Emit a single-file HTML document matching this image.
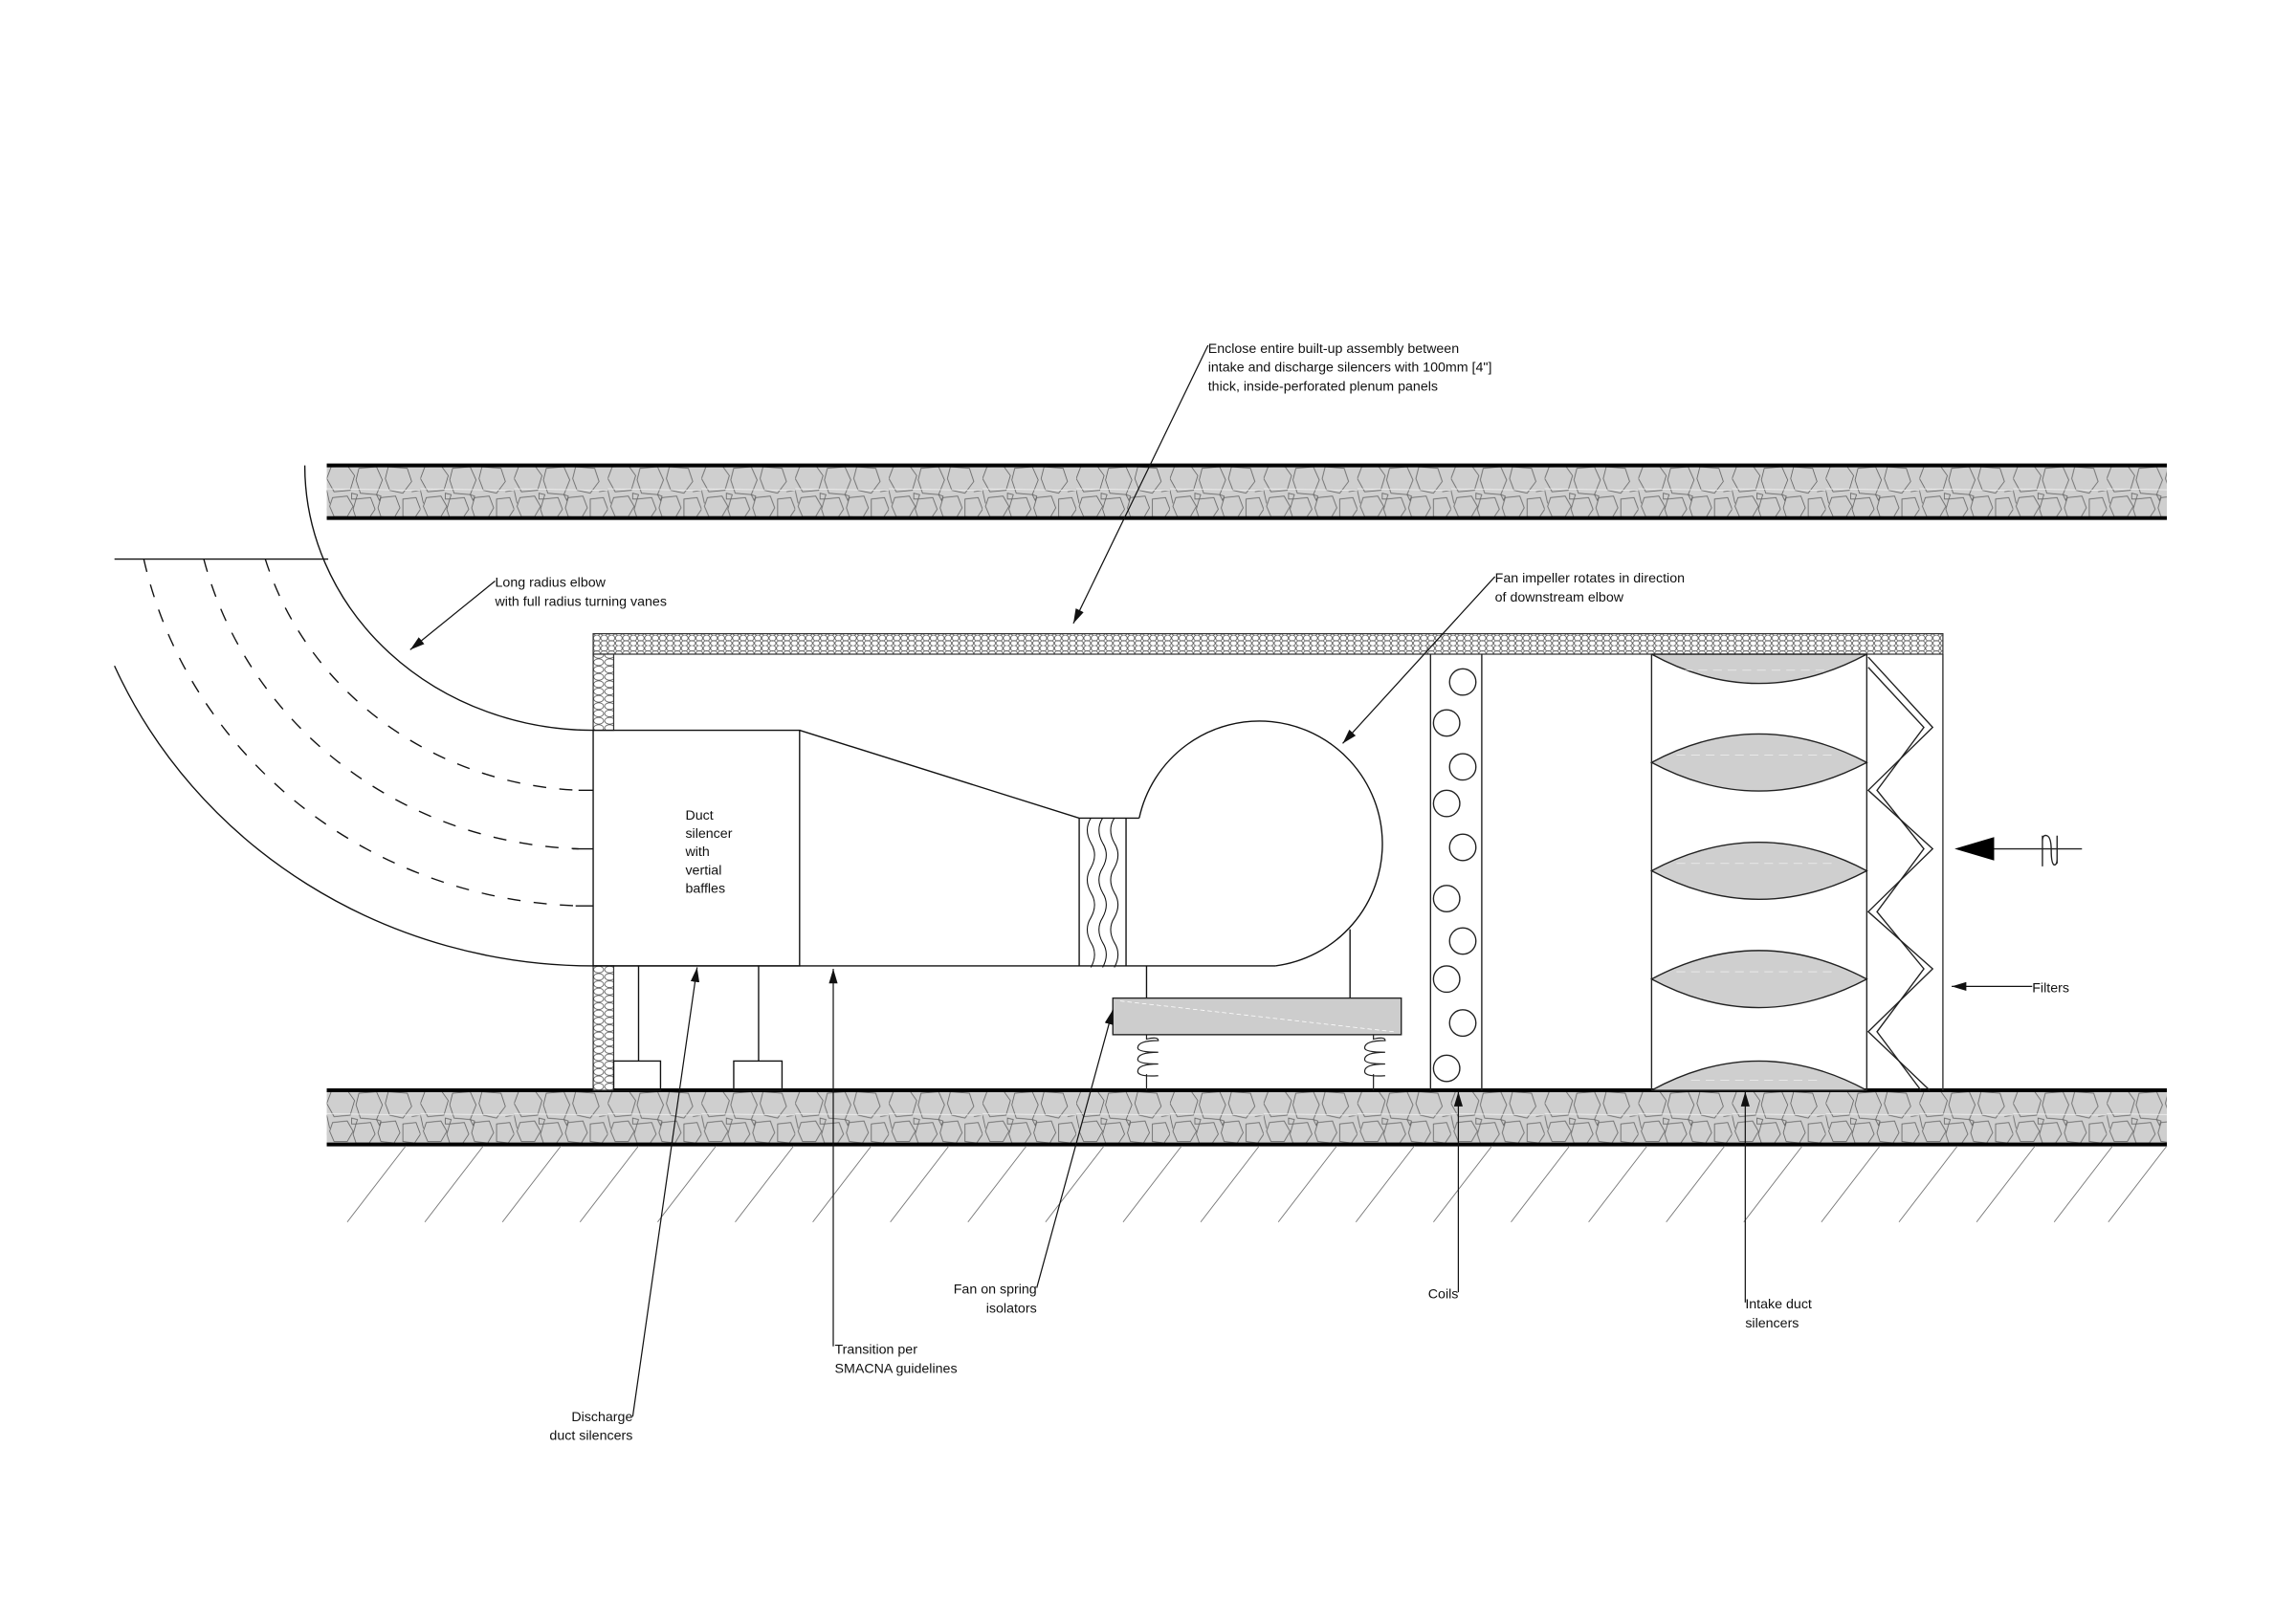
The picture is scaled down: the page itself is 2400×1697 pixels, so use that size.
<!DOCTYPE html>
<html><head><meta charset="utf-8"><style>
html,body{margin:0;padding:0;background:#fff;}
svg{display:block;}
text{font-family:"Liberation Sans",Arial,sans-serif;font-size:9.3px;fill:#111;}
</style></head><body>
<svg width="2400" height="1697" viewBox="0 0 1568 1109" xmlns="http://www.w3.org/2000/svg">
<defs>
<pattern id="stone" width="64" height="36" patternUnits="userSpaceOnUse">
<rect width="64" height="36" fill="#cfcfcf"/>
<g fill="none" stroke="#666" stroke-width="0.55">
<path d="M3 1 L14 0 L19 7 L16 17 L5 18 L0 9 Z"/>
<path d="M22 2 L34 1 L38 10 L34 20 L23 19 L20 10 Z"/>
<path d="M42 1 L55 2 L58 11 L52 19 L43 17 L40 9 Z"/>
<path d="M58 18 L64 17 M0 17 L2 26"/>
<path d="M4 22 L14 21 L18 28 L14 35 L5 35 L2 28 Z"/>
<path d="M20 23 L30 22 L33 30 L29 36 L20 36 L18 30 Z"/>
<path d="M37 22 L47 21 L50 29 L46 36 L37 35 L35 29 Z"/>
<path d="M52 23 L61 22 L64 30 L60 36 L52 35 Z"/>
<path d="M17 19 L21 20 L20 23 L17 23 Z"/>
<path d="M34 20 L37 21 L36 24 Z"/>
</g>
<line x1="0" y1="16" x2="64" y2="17" stroke="#f4f4f4" stroke-width="0.5"/>
</pattern>
<pattern id="ins" width="5" height="7" patternUnits="userSpaceOnUse">
<rect width="5" height="7" fill="#fff"/>
<ellipse cx="2.5" cy="2" rx="2.3" ry="2" fill="none" stroke="#555" stroke-width="0.5"/>
<ellipse cx="2.5" cy="5.5" rx="2.3" ry="1.8" fill="none" stroke="#555" stroke-width="0.5"/>
</pattern>
<pattern id="insv" width="7.5" height="5" patternUnits="userSpaceOnUse">
<rect width="7.5" height="5" fill="#fff"/>
<ellipse cx="3.75" cy="2.5" rx="3.4" ry="2.3" fill="none" stroke="#555" stroke-width="0.5"/>
<ellipse cx="11.25" cy="2.5" rx="3.4" ry="2.3" fill="none" stroke="#555" stroke-width="0.5"/>
</pattern>
<marker id="ar" markerWidth="10" markerHeight="6" refX="10" refY="3" orient="auto" markerUnits="userSpaceOnUse">
<path d="M0 0 L10 3 L0 6 Z" fill="#111"/>
</marker>
</defs>

<g transform="translate(223,318)">
<rect x="0" y="0" width="1257" height="36" fill="url(#stone)"/>
<line x1="0" y1="0" x2="1257" y2="0" stroke="#000" stroke-width="2.6"/>
<line x1="0" y1="36" x2="1257" y2="36" stroke="#000" stroke-width="2.6"/>
</g>
<g transform="translate(223,745)">
<rect x="0" y="0" width="1257" height="37" fill="url(#stone)"/>
<line x1="0" y1="0" x2="1257" y2="0" stroke="#000" stroke-width="2.6"/>
<line x1="0" y1="37" x2="1257" y2="37" stroke="#000" stroke-width="2.6"/>
</g>
<g stroke="#777" stroke-width="0.6">
<line x1="237" y1="835" x2="277" y2="783"/><line x1="290" y1="835" x2="330" y2="783"/>
<line x1="343" y1="835" x2="383" y2="783"/><line x1="396" y1="835" x2="436" y2="783"/>
<line x1="449" y1="835" x2="489" y2="783"/><line x1="502" y1="835" x2="542" y2="783"/>
<line x1="555" y1="835" x2="595" y2="783"/><line x1="608" y1="835" x2="648" y2="783"/>
<line x1="661" y1="835" x2="701" y2="783"/><line x1="714" y1="835" x2="754" y2="783"/>
<line x1="767" y1="835" x2="807" y2="783"/><line x1="820" y1="835" x2="860" y2="783"/>
<line x1="873" y1="835" x2="913" y2="783"/><line x1="926" y1="835" x2="966" y2="783"/>
<line x1="979" y1="835" x2="1019" y2="783"/><line x1="1032" y1="835" x2="1072" y2="783"/>
<line x1="1085" y1="835" x2="1125" y2="783"/><line x1="1138" y1="835" x2="1178" y2="783"/>
<line x1="1191" y1="835" x2="1231" y2="783"/><line x1="1244" y1="835" x2="1284" y2="783"/>
<line x1="1297" y1="835" x2="1337" y2="783"/><line x1="1350" y1="835" x2="1390" y2="783"/>
<line x1="1403" y1="835" x2="1443" y2="783"/><line x1="1440" y1="835" x2="1480" y2="783"/>
</g>

<rect x="405" y="433" width="922" height="14" fill="url(#ins)" stroke="#333" stroke-width="0.8"/>
<rect x="405" y="447" width="14" height="52" fill="url(#insv)" stroke="#333" stroke-width="0.8"/>
<rect x="405" y="660" width="14" height="85" fill="url(#insv)" stroke="#333" stroke-width="0.8"/>
<line x1="1327" y1="447" x2="1327" y2="745" stroke="#333" stroke-width="0.9"/>

<g fill="none" stroke="#111" stroke-width="0.9">
<line x1="78" y1="382" x2="224" y2="382"/>
<path d="M208 318 A 197 181 0 0 0 405 499"/>
<path d="M78 455 A 357 342 0 0 0 405 660"/>
<g stroke-dasharray="9 9">
<path d="M181 382 A 234 222 0 0 0 395 540"/>
<path d="M139 382 A 274 262 0 0 0 395 580"/>
<path d="M98 382 A 314 301 0 0 0 395 619"/>
</g>
<line x1="395" y1="540" x2="405" y2="540"/>
<line x1="391" y1="580" x2="405" y2="580"/>
<line x1="393" y1="619" x2="405" y2="619"/>

<rect x="405" y="499" width="141" height="161"/>
<path d="M546 499 L737 559 L778 559"/>
<line x1="405" y1="660" x2="871" y2="660"/>
<line x1="737" y1="559" x2="737" y2="660"/>
<line x1="769" y1="559" x2="769" y2="660"/>
<path d="M745 559 q-5 8 0 17 q5 8 0 17 q-5 8 0 17 q5 8 0 17 q-5 8 0 17 q5 8 0 17" stroke-width="0.7"/>
<path d="M753 559 q-5 8 0 17 q5 8 0 17 q-5 8 0 17 q5 8 0 17 q-5 8 0 17 q5 8 0 17" stroke-width="0.7"/>
<path d="M761 559 q-5 8 0 17 q5 8 0 17 q-5 8 0 17 q5 8 0 17 q-5 8 0 17 q5 8 0 17" stroke-width="0.7"/>
<path d="M778 559 A 84 84 0 1 1 871 660"/>
<line x1="783" y1="660" x2="783" y2="682"/>
<line x1="922" y1="635" x2="922" y2="682"/>
<line x1="436" y1="660" x2="436" y2="725"/>
<line x1="518" y1="660" x2="518" y2="725"/>
<rect x="419" y="725" width="32" height="20"/>
<rect x="501" y="725" width="33" height="20"/>
</g>
<rect x="760" y="682" width="197" height="25" fill="#cdcdcd" stroke="#222" stroke-width="0.9"/>
<line x1="765" y1="684" x2="952" y2="705" stroke="#fff" stroke-width="0.5" stroke-dasharray="3 2"/>
<g fill="none" stroke="#222" stroke-width="0.8">
<path d="M783 707 L783 710 q8 -2 8 1 q-14 0 -14 5 q0 3 14 3 q-14 0 -14 5 q0 3 14 3 q-14 0 -14 5 q0 4 14 3 M783 734 L783 745"/>
<path d="M938 707 L938 710 q8 -2 8 1 q-14 0 -14 5 q0 3 14 3 q-14 0 -14 5 q0 3 14 3 q-14 0 -14 5 q0 4 14 3 M938 734 L938 745"/>
</g>

<g fill="none" stroke="#222" stroke-width="0.9">
<line x1="977" y1="447" x2="977" y2="745"/>
<line x1="1012" y1="447" x2="1012" y2="745"/>
<circle cx="999" cy="466" r="9"/><circle cx="988" cy="494" r="9"/>
<circle cx="999" cy="524" r="9"/><circle cx="988" cy="549" r="9"/>
<circle cx="999" cy="579" r="9"/><circle cx="988" cy="614" r="9"/>
<circle cx="999" cy="643" r="9"/><circle cx="988" cy="669" r="9"/>
<circle cx="999" cy="699" r="9"/><circle cx="988" cy="730" r="9"/>
</g>

<g stroke="#222" stroke-width="0.9">
<line x1="1128" y1="447" x2="1128" y2="745"/>
<line x1="1275" y1="447" x2="1275" y2="745"/>
<path d="M1128 447 Q1201 487 1275 447 Z" fill="#cfcfcf"/>
<path d="M1128 521 Q1201 482 1275 521 Q1201 560 1128 521 Z" fill="#cfcfcf"/>
<path d="M1128 595 Q1201 556 1275 595 Q1201 634 1128 595 Z" fill="#cfcfcf"/>
<path d="M1128 669 Q1201 630 1275 669 Q1201 708 1128 669 Z" fill="#cfcfcf"/>
<path d="M1128 745 Q1201 705 1275 745 Z" fill="#cfcfcf"/>
</g>
<g stroke="#fff" stroke-width="0.4" stroke-dasharray="6 4" opacity="0.8">
<line x1="1150" y1="458" x2="1250" y2="458"/><line x1="1145" y1="516" x2="1255" y2="516"/>
<line x1="1145" y1="590" x2="1255" y2="590"/><line x1="1145" y1="664" x2="1255" y2="664"/>
<line x1="1155" y1="738" x2="1245" y2="738"/>
</g>

<g fill="none" stroke="#222" stroke-width="0.9">
<polyline points="1276,449 1320,497 1276,540 1320,580 1276,623 1320,662 1276,705 1318,745"/>
<polyline points="1276,456 1314,497 1282,540 1314,580 1282,623 1314,662 1282,705 1312,745"/>
</g>

<path d="M1335 580 L1362 572 L1362 588 Z" fill="#000"/>
<line x1="1362" y1="580" x2="1422" y2="580" stroke="#222" stroke-width="0.9"/>
<path d="M1395 571 L1395 592 M1405 571 L1405 590 M1395 575 q0 -5 3 -4 q3 1 3 10 q0 9 2 10 q2 0 2 -4" fill="none" stroke="#222" stroke-width="0.9"/>

<g stroke="#111" stroke-width="0.8" fill="none" marker-end="url(#ar)">
<line x1="825" y1="236" x2="733" y2="426"/>
<line x1="338" y1="397" x2="280" y2="444"/>
<line x1="1021" y1="394" x2="917" y2="508"/>
<line x1="432" y1="968" x2="476" y2="661"/>
<line x1="569" y1="920" x2="569" y2="662"/>
<line x1="708" y1="880" x2="760" y2="690"/>
<line x1="996" y1="883" x2="996" y2="746"/>
<line x1="1192" y1="890" x2="1192" y2="746"/>
<line x1="1388" y1="674" x2="1333" y2="674"/>
</g>

<text x="825" y="241">Enclose entire built-up assembly between</text>
<text x="825" y="254">intake and discharge silencers with 100mm [4"]</text>
<text x="825" y="267">thick, inside-perforated plenum panels</text>
<text x="338" y="401">Long radius elbow</text>
<text x="338" y="414">with full radius turning vanes</text>
<text x="1021" y="398">Fan impeller rotates in direction</text>
<text x="1021" y="411">of downstream elbow</text>
<text x="468" y="560">Duct</text>
<text x="468" y="572.5">silencer</text>
<text x="468" y="585">with</text>
<text x="468" y="597.5">vertial</text>
<text x="468" y="610">baffles</text>
<text x="432" y="971" text-anchor="end">Discharge</text>
<text x="432" y="984" text-anchor="end">duct silencers</text>
<text x="570" y="925">Transition per</text>
<text x="570" y="938">SMACNA guidelines</text>
<text x="708" y="884" text-anchor="end">Fan on spring</text>
<text x="708" y="897" text-anchor="end">isolators</text>
<text x="996" y="887" text-anchor="end">Coils</text>
<text x="1192" y="894">Intake duct</text>
<text x="1192" y="907">silencers</text>
<text x="1388" y="678">Filters</text>
</svg>
</body></html>
